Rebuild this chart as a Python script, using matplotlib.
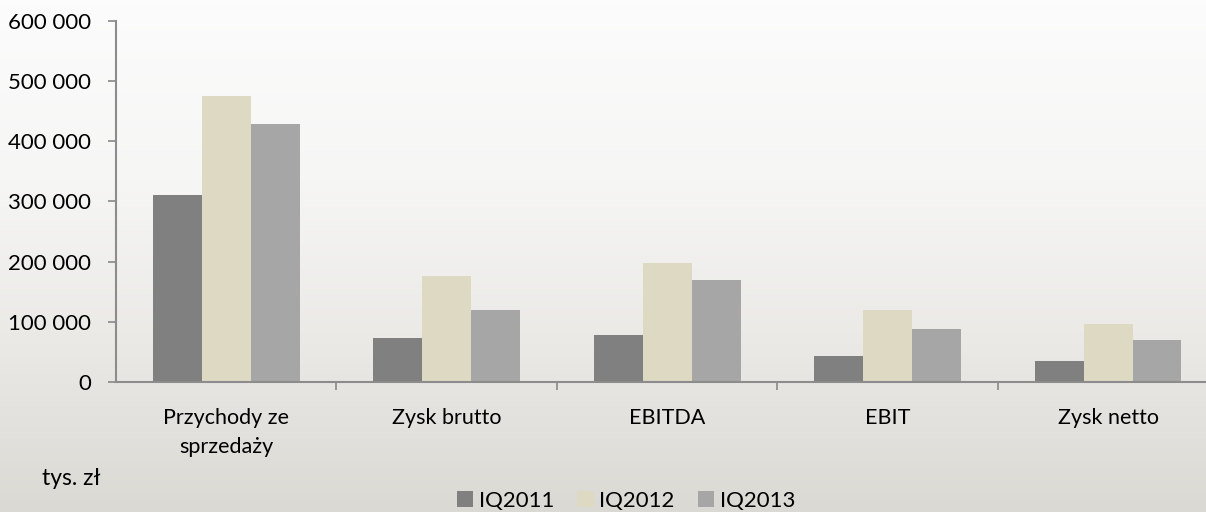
import matplotlib
matplotlib.use("Agg")
import matplotlib.pyplot as plt
from matplotlib.colors import LinearSegmentedColormap
from matplotlib.patches import Patch
import numpy as np

# ─────────────────────────────────────────────
# Data (tys. zł)
# ─────────────────────────────────────────────

categories = ["Przychody ze\nsprzedaży", "Zysk brutto", "EBITDA", "EBIT", "Zysk netto"]
series_names = ["IQ2011", "IQ2012", "IQ2013"]

iq2011 = [310000, 73000, 78000, 44000, 34500]
iq2012 = [476000, 176000, 198000, 119000, 97000]
iq2013 = [429000, 119000, 169000, 88000, 69000]

y_ticks = [0, 100000, 200000, 300000, 400000, 500000, 600000]

COLORS = ["#808080", "#DDD9C3", "#A6A6A6"]
FONT = ["Lato", "DejaVu Sans"]

plt.rcParams["font.family"] = FONT

fig = plt.figure(figsize=(12.06, 5.12), dpi=100)

# background gradient (light top -> warm grey bottom)
bg = fig.add_axes([0, 0, 1, 1], zorder=-10)
cmap = LinearSegmentedColormap.from_list(
    "bg", [(0.0, "#dbd9d4"), (0.35, "#ebeae7"), (0.65, "#f6f6f5"), (1.0, "#fcfcfc")]
)
bg.imshow(np.linspace(0, 1, 256).reshape(-1, 1), aspect="auto", cmap=cmap,
          origin="lower", extent=[0, 1, 0, 1])
bg.axis("off")

ax = fig.add_axes([0.0962, 0.2539, 0.914, 0.7051])
ax.patch.set_alpha(0)

x = np.arange(len(categories))
w = 0.222
for i, (vals, name) in enumerate(zip([iq2011, iq2012, iq2013], series_names)):
    ax.bar(x + (i - 1) * w, vals, width=w, color=COLORS[i], label=name, zorder=2)

ax.set_xlim(-0.5, len(categories) - 0.5)
ax.set_ylim(0, 600000)
ax.set_yticks(y_ticks)
ax.set_yticklabels([f"{v:,}".replace(",", " ") for v in y_ticks], fontsize=16)

ax.set_xticks(x)
ax.set_xticklabels(categories, fontsize=15.5, linespacing=1.55)
ax.tick_params(axis="x", which="major", length=0, pad=19)
ax.set_xticks(np.arange(len(categories)) + 0.5, minor=True)
ax.tick_params(axis="x", which="minor", length=6, color="#888888", width=1.2)
ax.tick_params(axis="y", length=6, color="#888888", width=1.2, pad=12)

for s in ["top", "right"]:
    ax.spines[s].set_visible(False)
for s in ["left", "bottom"]:
    ax.spines[s].set_color("#8c8c8c")
    ax.spines[s].set_linewidth(1.5)

fig.text(0.035, 0.066, "tys. zł", fontsize=16.5, va="center")

handles = [Patch(facecolor=c, label=n) for c, n in zip(COLORS, series_names)]
fig.legend(handles=handles, loc="center", bbox_to_anchor=(0.519, 0.022), ncol=3,
           frameon=False, fontsize=16, handlelength=0.73, handleheight=0.73,
           handletextpad=0.25, columnspacing=1.05, borderpad=0)

fig.savefig("out.png", dpi=100)
